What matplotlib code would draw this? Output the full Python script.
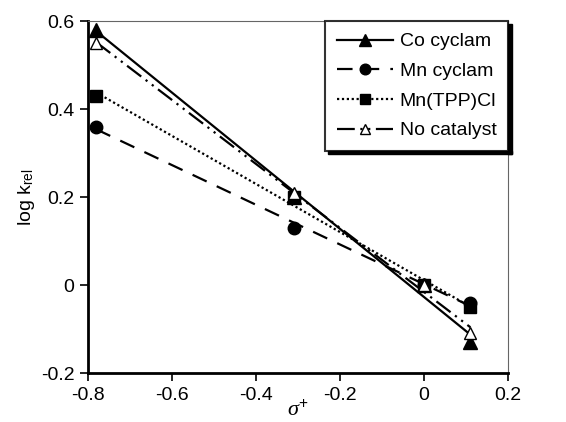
import matplotlib
matplotlib.use("Agg")
import matplotlib.pyplot as plt
import numpy as np
from matplotlib.ticker import FixedLocator, FuncFormatter

plt.rcParams['font.family'] = ['Liberation Sans', 'DejaVu Sans']
plt.rcParams['mathtext.fontset'] = 'custom'
plt.rcParams['mathtext.rm'] = 'Liberation Sans'
plt.rcParams['mathtext.it'] = 'Liberation Serif:italic'
plt.rcParams['axes.unicode_minus'] = False

# sigma+ values of the substituents
sigma = [-0.78, -0.31, 0.0, 0.11]

# log k_rel for each catalyst
co_cyclam = [0.58, 0.20, 0.0, -0.13]
mn_cyclam = [0.36, 0.13, 0.0, -0.04]
mn_tpp = [0.43, 0.20, 0.0, -0.05]
no_cat = [0.55, 0.21, 0.0, -0.11]

labels = ['Co cyclam', 'Mn cyclam', 'Mn(TPP)Cl', 'No catalyst']
x_ticks = [-0.8, -0.6, -0.4, -0.2, 0, 0.2]
y_ticks = [-0.2, 0, 0.2, 0.4, 0.6]

fig = plt.figure(figsize=(5.66, 4.22), dpi=100)
ax = fig.add_axes([0.155, 0.116, 0.743, 0.834])

series = [co_cyclam, mn_cyclam, mn_tpp, no_cat]
styles = [
    dict(ls='-', marker='^', mfc='k', ms=10),
    dict(ls=(0, (7, 5)), marker='o', mfc='k', ms=9),
    dict(ls=(0, (1, 1.2)), marker='s', mfc='k', ms=8),
    dict(ls=(0, (8, 2.5, 1, 2.5, 1, 2.5)), marker='^', mfc='w', ms=9),
]

xs = np.array(sigma)
xfit = np.array([min(sigma), max(sigma)])
for ys, st, lab in zip(series, styles, labels):
    # linear trendline through the points
    k, b = np.polyfit(xs, ys, 1)
    ax.plot(xfit, k * xfit + b, color='k', lw=1.6, ls=st['ls'])
    ax.plot(sigma, ys, ls='none', marker=st['marker'], mfc=st['mfc'],
            mec='k', ms=st['ms'], mew=1.0)
    # legend proxy
    ax.plot([], [], color='k', lw=1.6, ls=st['ls'], marker=st['marker'],
            mfc=st['mfc'], mec='k', ms=st['ms'] * 0.85, label=lab)

ax.set_xlim(-0.8, 0.2)
ax.set_ylim(-0.2, 0.6)
ax.xaxis.set_major_locator(FixedLocator(x_ticks))
ax.yaxis.set_major_locator(FixedLocator(y_ticks))
fmt = FuncFormatter(lambda v, p: '%g' % round(v, 2))
ax.xaxis.set_major_formatter(fmt)
ax.yaxis.set_major_formatter(fmt)
ax.tick_params(labelsize=14, direction='out', length=6, width=1.2)
ax.tick_params(axis='x', pad=4)

for s in ['left', 'bottom']:
    ax.spines[s].set_linewidth(2)
for s in ['top', 'right']:
    ax.spines[s].set_linewidth(0.8)
    ax.spines[s].set_color('0.4')

ax.set_ylabel(r'log k$_{\mathrm{rel}}$', fontsize=14, labelpad=3)
ax.set_xlabel(r'$\sigma^{+}$', fontsize=16, labelpad=-3)

leg = ax.legend(loc='upper right', bbox_to_anchor=(1.0, 1.0), fontsize=14,
                frameon=True, fancybox=False, shadow=False, handlelength=2.9,
                handletextpad=0.35, labelspacing=0.62, borderpad=0.6,
                borderaxespad=0.0)
leg.get_frame().set_edgecolor('k')
leg.get_frame().set_linewidth(1.5)
leg.set_zorder(5)

fig.canvas.draw()
bb = leg.get_window_extent()
inv = fig.transFigure.inverted()
(x0, y0), (x1, y1) = inv.transform([[bb.x0, bb.y0], [bb.x1, bb.y1]])
# shadow on right and bottom
fig.add_artist(plt.Rectangle((x1, y0 - 0.008), 0.006, y1 - y0, color='k',
                             transform=fig.transFigure, zorder=4))
fig.add_artist(plt.Rectangle((x0 + 0.006, y0 - 0.008), x1 - x0, 0.008,
                             color='k', transform=fig.transFigure, zorder=4))

fig.savefig('out.png', dpi=100)
